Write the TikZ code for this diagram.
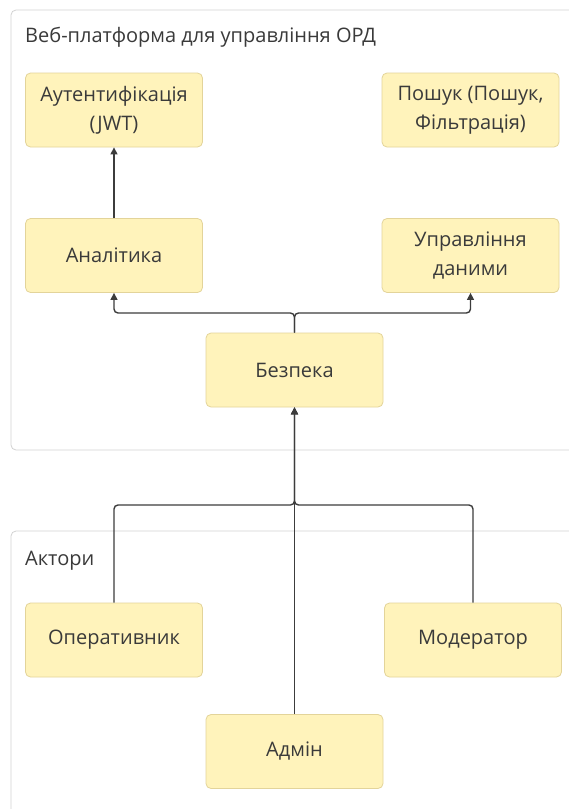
\documentclass[tikz,border=0pt]{standalone}
\usepackage{fontspec}
\setmainfont{Open Sans}
\usetikzlibrary{arrows.meta}
\definecolor{nodefill}{HTML}{FFF3BB}
\definecolor{nodeline}{HTML}{E3D49A}
\definecolor{clusterline}{HTML}{D2D2D2}
\definecolor{txt}{HTML}{3A3A3A}
\definecolor{edge}{HTML}{3C3C3C}
\begin{document}
\begin{tikzpicture}[x=1pt,y=-1pt,
  box/.style={draw=nodeline, fill=nodefill, rounded corners=5pt, minimum width=177pt, minimum height=74pt, align=center, text=txt, font=\fontsize{20}{29}\selectfont, inner sep=0pt, line width=0.8pt},
  cluster/.style={draw=clusterline, fill=white, rounded corners=5pt, line width=0.8pt},
  ctitle/.style={anchor=base west, text=txt, font=\fontsize{20}{24}\selectfont, inner sep=0pt},
  link/.style={draw=edge, line width=1.4pt, rounded corners=4pt},
  arr/.style={link, -{Triangle[length=7pt,width=7pt]}}
]
\useasboundingbox (0,0) rectangle (568,809);
\fill[white] (0,0) rectangle (568,809);
\draw[cluster] (11,10) rectangle (620,450);
\draw[cluster] (11,531) rectangle (620,860);
\node[ctitle] (t1) at (25,42) {Веб-платформа для управління ОРД};
\node[ctitle] (t2) at (25,565) {Актори};
\node[box] (auth) at (114,110) {Аутентифікація\\(JWT)};
\node[box] (posh) at (470.5,110) {Пошук (Пошук,\\Фільтрація)};
\node[box] (anal) at (114,255.5) {Аналітика};
\node[box] (upr) at (470.5,255.5) {Управління\\даними};
\node[box] (bez) at (294.5,370) {Безпека};
\node[box] (oper) at (114,640) {Оперативник};
\node[box] (mod) at (473,640) {Модератор};
\node[box] (adm) at (294.5,751.5) {Адмін};
\coordinate (jt) at (294.5,313);
\coordinate (jb) at (294.5,505);
\draw[arr] (anal.north) -- (auth.south);
\draw[arr] (bez.north) -- (jt) -| (anal.south);
\draw[arr] (bez.north) -- (jt) -| (upr.south);
\draw[arr] (oper.north) |- (jb) -- (bez.south);
\draw[arr] (mod.north) |- (jb) -- (bez.south);
\draw[arr] (adm.north) -- (bez.south);
\end{tikzpicture}
\end{document}
